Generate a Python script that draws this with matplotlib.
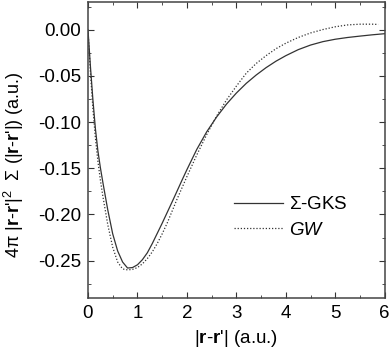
import matplotlib
matplotlib.use("Agg")
import matplotlib.pyplot as plt
from matplotlib.ticker import MultipleLocator

plt.rcParams['font.family'] = ['Liberation Sans', 'DejaVu Sans']
plt.rcParams['mathtext.fontset'] = 'custom'
plt.rcParams['mathtext.rm'] = 'Liberation Sans'
plt.rcParams['mathtext.it'] = 'Liberation Sans:italic'
plt.rcParams['mathtext.bf'] = 'Liberation Sans:bold'

# Sigma-GKS curve
gks_r = [0.0, 0.05, 0.1, 0.15, 0.2, 0.25, 0.3, 0.4, 0.5, 0.6, 0.7, 0.8, 0.9,
         1.0, 1.1, 1.2, 1.3, 1.4, 1.5, 1.6, 1.7, 1.8, 1.9, 2.0, 2.2, 2.4, 2.6,
         2.8, 3.0, 3.2, 3.4, 3.6, 3.8, 4.0, 4.25, 4.5, 4.75, 5.0, 5.25, 5.5,
         5.75, 6.0]
gks_s = [0.000, -0.040, -0.076, -0.107, -0.131, -0.149, -0.165, -0.195,
         -0.221, -0.2395, -0.2515, -0.258, -0.2575, -0.2545, -0.249, -0.2415,
         -0.2315, -0.2205, -0.2095, -0.198, -0.1865, -0.1748, -0.163, -0.1515,
         -0.1295, -0.1105, -0.0945, -0.0805, -0.0685, -0.058, -0.049, -0.041,
         -0.034, -0.028, -0.0215, -0.0165, -0.0128, -0.0102, -0.0083, -0.0068,
         -0.0054, -0.0042]

# GW curve
gw_r = [0.0, 0.05, 0.1, 0.15, 0.2, 0.25, 0.3, 0.4, 0.5, 0.6, 0.7, 0.8, 0.9,
        1.0, 1.1, 1.2, 1.3, 1.4, 1.5, 1.6, 1.7, 1.8, 2.0, 2.2, 2.4, 2.6, 2.8,
        3.0, 3.2, 3.4, 3.6, 3.8, 4.0, 4.25, 4.5, 4.75, 5.0, 5.25, 5.5, 5.75,
        5.87]
gw_s = [0.000, -0.0465, -0.0855, -0.117, -0.142, -0.1625, -0.180, -0.211,
        -0.2355, -0.2515, -0.259, -0.260, -0.2595, -0.2575, -0.2535, -0.2478,
        -0.2405, -0.2315, -0.221, -0.2095, -0.1965, -0.1835, -0.159, -0.1355,
        -0.1135, -0.0935, -0.076, -0.061, -0.047, -0.0365, -0.028, -0.0205,
        -0.0145, -0.0083, -0.0034, 0.0003, 0.0033, 0.0053, 0.0061, 0.0061,
        0.0058]

fig = plt.figure(figsize=(3.91, 3.53), dpi=100)
ax = fig.add_axes([0.225, 0.157, 0.759, 0.837])

ax.plot(gks_r, gks_s, color='#333333', lw=0.9, label=r'$\Sigma$-GKS')
ax.plot(gw_r, gw_s, color='#333333', lw=0.9, ls=(0, (1, 1.5)), label='GW')

ax.set_xlim(0, 6)
ax.set_ylim(-0.29, 0.03)
ax.xaxis.set_major_locator(MultipleLocator(1))
ax.xaxis.set_minor_locator(MultipleLocator(0.5))
ax.yaxis.set_major_locator(MultipleLocator(0.05))
ax.yaxis.set_minor_locator(MultipleLocator(0.025))
ax.yaxis.set_major_formatter(plt.FormatStrFormatter('%.2f'))
ax.tick_params(which='both', direction='in', top=True, right=True,
               labelsize=13.5, color='#333333', pad=5)
ax.tick_params(which='major', length=4)
ax.tick_params(which='minor', length=2.5)
for sp in ax.spines.values():
    sp.set_linewidth(1.1)
    sp.set_color('#444444')

ax.set_xlabel(r"|$\mathbf{r}$-$\mathbf{r}$'| (a.u.)", fontsize=13.5, labelpad=5)
ax.set_ylabel(r"4$\mathrm{\pi}$ |$\mathbf{r}$-$\mathbf{r}$'|$^2$  $\Sigma$ (|$\mathbf{r}$-$\mathbf{r}$'|) (a.u.)",
              fontsize=13)
ax.yaxis.set_label_coords(-0.21, 0.45)

leg = ax.legend(loc='upper left', bbox_to_anchor=(0.435, 0.40), frameon=False,
                fontsize=13.5, handlelength=2.6, handletextpad=0.35,
                labelspacing=0.45)
leg.get_texts()[1].set_fontstyle('italic')

fig.savefig('out.png', dpi=100)
